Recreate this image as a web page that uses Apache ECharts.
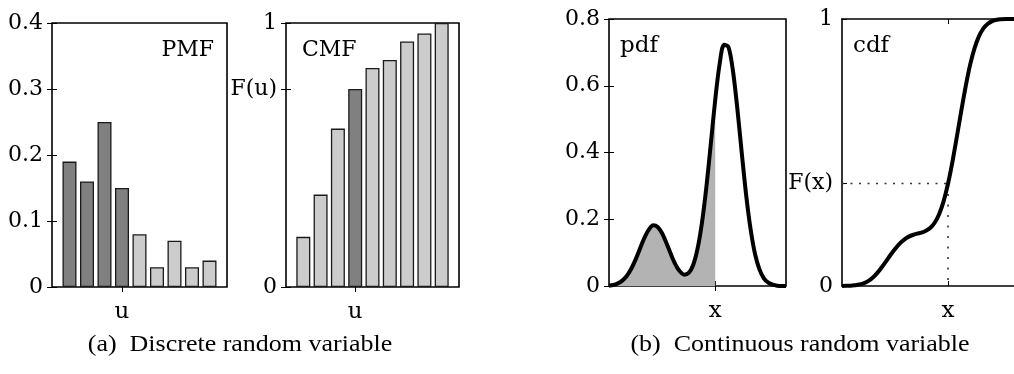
<!DOCTYPE html>
<html>
<head>
<meta charset="utf-8">
<script src="https://cdn.jsdelivr.net/npm/echarts@6/dist/echarts.min.js"></script>
<style>
html,body{margin:0;padding:0;background:#fff}
#c{width:1014px;height:374px}
</style>
</head>
<body>
<div id="c"></div>
<script>
// ---------- data ----------
const uValues   = [1, 2, 3, 4, 5, 6, 7, 8, 9];
const pmfValues = [0.19, 0.16, 0.25, 0.15, 0.08, 0.03, 0.07, 0.03, 0.04];
const cmfValues = [0.19, 0.35, 0.60, 0.75, 0.83, 0.86, 0.93, 0.96, 1.00];
const uMark = 4;
const pmfTicks = [0, 0.1, 0.2, 0.3, 0.4];

const xGrid = [0, 0.25, 0.5, 0.75, 1, 1.25, 1.5, 1.75, 2, 2.25, 2.5, 2.75, 3, 3.25, 3.5, 3.75,
  4, 4.25, 4.5, 4.75, 5, 5.25, 5.5, 5.75, 6, 6.25, 6.5, 6.75, 7, 7.25, 7.5, 7.75,
  8, 8.25, 8.5, 8.75, 9, 9.25, 9.5, 9.75, 10];
const pdfValues = [0.001, 0.003, 0.008, 0.016, 0.030, 0.051, 0.079, 0.112, 0.144, 0.169,
  0.182, 0.177, 0.158, 0.128, 0.095, 0.065, 0.044, 0.034, 0.039, 0.062,
  0.111, 0.189, 0.296, 0.425, 0.557, 0.665, 0.723, 0.716, 0.646, 0.532,
  0.399, 0.272, 0.170, 0.096, 0.050, 0.023, 0.010, 0.004, 0.001, 0.000, 0.000];
const cdfValues = [0.000, 0.001, 0.001, 0.003, 0.006, 0.011, 0.019, 0.032, 0.049, 0.070,
  0.093, 0.117, 0.139, 0.158, 0.173, 0.184, 0.191, 0.196, 0.200, 0.207,
  0.218, 0.238, 0.270, 0.318, 0.384, 0.466, 0.560, 0.657, 0.749, 0.829,
  0.891, 0.936, 0.965, 0.982, 0.992, 0.997, 0.999, 1.000, 1.000, 1.000, 1.000];
const xMark = 6;
const pdfTicks = [0, 0.2, 0.4, 0.6, 0.8];

// ---------- derived ----------
const FU = cmfValues[uValues.indexOf(uMark)];
const FX = cdfValues[xGrid.indexOf(xMark)];
const pdfPts = xGrid.map((x, i) => [x, pdfValues[i]]);
const pdfShade = pdfPts.filter(p => p[0] <= xMark);
const cdfPts = xGrid.map((x, i) => [x, cdfValues[i]]);

const FONT = '"DejaVu Serif", serif';
const DARK = '#808080', LIGHT = '#cccccc';
const labelStyle = { color: '#000', fontFamily: FONT, fontSize: 22 };
const BORDER = { color: '#000', width: 1.6 };

// the cdf panel is cut by the right edge of the page (as in the original figure),
// so it gets no right border and its visible x range ends a bit before 10
const grids = [
  { left: 52,  top: 23, width: 175, height: 264, show: true },
  { left: 286, top: 23, width: 173, height: 264, show: true },
  { left: 609, top: 19, width: 177, height: 267, show: true },
  { left: 842, top: 19, width: 172, height: 267, show: false }
].map(g => Object.assign(g, { borderColor: '#000', borderWidth: 1.6, containLabel: false }));
const xMaxes = [10, 10, 10, 9.73];

const tick = (vals) => ({ show: true, inside: true, length: 5, customValues: vals, lineStyle: { color: '#000', width: 1 } });
const lineFor = g => (g === 3 ? { show: true, onZero: false, lineStyle: BORDER } : { show: false });

function xPair(g, mark, name) {
  return [
    { gridIndex: g, type: 'value', min: 0, max: xMaxes[g], position: 'bottom',
      axisLine: lineFor(g), splitLine: { show: false }, axisTick: tick([mark]),
      axisLabel: Object.assign({ customValues: [mark], formatter: () => name, margin: 14 }, labelStyle, { fontSize: 23 }) },
    { gridIndex: g, type: 'value', min: 0, max: xMaxes[g], position: 'top',
      axisLine: lineFor(g), splitLine: { show: false }, axisTick: tick([mark]),
      axisLabel: { show: false } }
  ];
}
function yPair(g, max, vals, fmt) {
  return [
    { gridIndex: g, type: 'value', min: 0, max: max, position: 'left',
      axisLine: lineFor(g), splitLine: { show: false }, axisTick: tick(vals),
      axisLabel: Object.assign({ customValues: vals, formatter: fmt, margin: 9 }, labelStyle) },
    { gridIndex: g, type: 'value', min: 0, max: max, position: 'right',
      axisLine: { show: false }, splitLine: { show: false }, axisTick: Object.assign(tick(vals), { show: g !== 3 }),
      axisLabel: { show: false } }
  ];
}
const numFmt = v => (v === 0 ? '0' : String(v));

const xAxis = [].concat(xPair(0, uMark, 'u'), xPair(1, uMark, 'u'), xPair(2, xMark, 'x'), xPair(3, xMark, 'x'));
const yAxis = [].concat(
  yPair(0, 0.4, pmfTicks, numFmt),
  yPair(1, 1, [0, FU, 1], v => (v === 0 ? '0' : v === 1 ? '1' : 'F(u)')),
  yPair(2, 0.8, pdfTicks, numFmt),
  yPair(3, 1, [0, FX, 1], v => (v === 0 ? '0' : v === 1 ? '1' : 'F(x)'))
);

const barBorder = { borderColor: '#1a1a1a', borderWidth: 1.3 };
const series = [
  { type: 'bar', xAxisIndex: 0, yAxisIndex: 0, barWidth: 14,
    data: uValues.map((u, i) => ({ value: [u, pmfValues[i]],
      itemStyle: Object.assign({ color: u <= uMark ? DARK : LIGHT }, barBorder) })) },
  { type: 'bar', xAxisIndex: 2, yAxisIndex: 2, barWidth: 14,
    data: uValues.map((u, i) => ({ value: [u, cmfValues[i]],
      itemStyle: Object.assign({ color: u === uMark ? DARK : LIGHT }, barBorder) })) },
  { type: 'line', xAxisIndex: 4, yAxisIndex: 4, data: pdfShade, symbol: 'none', smooth: 0.3,
    lineStyle: { width: 0 }, areaStyle: { color: '#b3b3b3', opacity: 1 }, z: 2 },
  { type: 'line', xAxisIndex: 4, yAxisIndex: 4, data: pdfPts, symbol: 'none', smooth: 0.3,
    lineStyle: { color: '#000', width: 4 }, z: 3 },
  { type: 'line', xAxisIndex: 6, yAxisIndex: 6, data: [[0, FX], [xMark, FX]], symbol: 'none',
    lineStyle: { color: '#333', width: 1.6, type: [2, 6.5] }, z: 2 },
  { type: 'line', xAxisIndex: 6, yAxisIndex: 6, data: [[xMark, FX], [xMark, 0]], symbol: 'none',
    lineStyle: { color: '#333', width: 1.6, type: [2, 8.5] }, z: 2 },
  { type: 'line', xAxisIndex: 6, yAxisIndex: 6, data: cdfPts, symbol: 'none', smooth: 0.3,
    lineStyle: { color: '#000', width: 4 }, z: 3 }
];

const txt = (text, x, y, align, size, fam, sx) => ({
  type: 'text', x: x, y: y, scaleX: sx || 1, z: 100,
  style: { text: text, fill: '#000', font: size + 'px ' + fam, textAlign: align, textVerticalAlign: 'middle' }
});
const graphic = [
  txt('PMF', 214, 50, 'right', 22, FONT),
  txt('CMF', 302, 50, 'left', 22, FONT),
  txt('pdf', 620, 46, 'left', 23, FONT),
  txt('cdf', 853, 46, 'left', 23, FONT),
  txt('(a)  Discrete random variable', 240, 345, 'center', 23, '"Liberation Serif", serif', 1.13),
  txt('(b)  Continuous random variable', 800, 345, 'center', 23, '"Liberation Serif", serif', 1.13)
];

const chart = echarts.init(document.getElementById('c'), null, { renderer: 'canvas' });
chart.setOption({ animation: false, backgroundColor: '#fff', grid: grids, xAxis: xAxis, yAxis: yAxis, series: series, graphic: graphic });
</script>
</body>
</html>
